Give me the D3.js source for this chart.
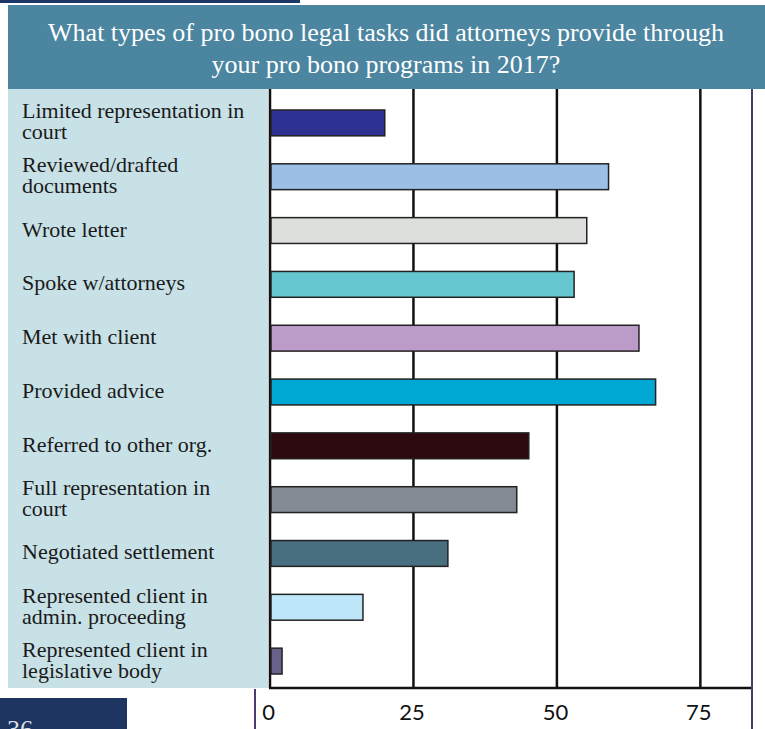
<!DOCTYPE html>
<html>
<head>
<meta charset="utf-8">
<script src="https://cdn.jsdelivr.net/npm/d3@7"></script>
<style>
  html, body { margin: 0; padding: 0; background: #ffffff; }
  svg { display: block; }
</style>
</head>
<body>
<svg id="chart" width="765" height="729"></svg>
<script>
// ---- data ----
const titleLines = [
  "What types of pro bono legal tasks did attorneys provide through",
  "your pro bono programs in 2017?"
];
const categories = [
  ["Limited representation in", "court"],
  ["Reviewed/drafted", "documents"],
  ["Wrote letter"],
  ["Spoke w/attorneys"],
  ["Met with client"],
  ["Provided advice"],
  ["Referred to other org."],
  ["Full representation in", "court"],
  ["Negotiated settlement"],
  ["Represented client in", "admin. proceeding"],
  ["Represented client in", "legislative body"]
];
const values = [20, 59, 55.2, 53, 64.3, 67.2, 45.1, 43, 31, 16.2, 2.1];
const barColors = ["#2e3192", "#9bbfe5", "#dcdfdc", "#66c6cf", "#bc9bc9", "#00a9d4",
                   "#2d0a10", "#838a91", "#476f80", "#bde7f8", "#6a628c"];
const tickValues = [0, 25, 50, 75];
const pageNumber = "36";

// ---- layout ----
const svg = d3.select("#chart");
const plotLeft = 270, plotRight = 752, plotTop = 89, plotBottom = 688;

const x = d3.scaleLinear().domain([0, 84]).range([plotLeft, plotRight]);
const y = d3.scaleBand()
  .domain(d3.range(categories.length))
  .range([96, 688])
  .paddingInner(0.52)
  .paddingOuter(0.26);

// top dark rule
svg.append("rect").attr("x", 0).attr("y", 0).attr("width", 300).attr("height", 3).attr("fill", "#1d3766");

// title band
svg.append("rect").attr("x", 8).attr("y", 5).attr("width", 757).attr("height", 84).attr("fill", "#4b85a0");
svg.append("g").selectAll("text").data(titleLines).join("text")
  .attr("x", 386).attr("y", (d, i) => 41 + i * 32)
  .attr("text-anchor", "middle")
  .attr("fill", "#ffffff")
  .style("font-family", "'Liberation Serif', 'DejaVu Serif', serif")
  .style("font-size", "26px")
  .text(d => d);

// label panel
svg.append("rect").attr("x", 8).attr("y", plotTop).attr("width", 260).attr("height", plotBottom - plotTop).attr("fill", "#c8e1e6");

// labels
const lab = svg.append("g").selectAll("text").data(categories).join("text")
  .attr("fill", "#1a1a1a")
  .style("font-family", "'Liberation Serif', 'DejaVu Serif', serif")
  .style("font-size", "22px");
lab.each(function(d, i) {
  const cy = y(i) + y.bandwidth() / 2;
  const lh = 21;
  const startY = cy - (d.length - 1) * lh / 2 + 6;
  d3.select(this).selectAll("tspan").data(d).join("tspan")
    .attr("x", 22)
    .attr("y", (t, j) => startY + j * lh)
    .text(t => t);
});

// gridlines
svg.append("g").selectAll("line").data(tickValues).join("line")
  .attr("x1", d => x(d)).attr("x2", d => x(d))
  .attr("y1", plotTop).attr("y2", plotBottom)
  .attr("stroke", "#111").attr("stroke-width", 2.5);

// bars
svg.append("g").selectAll("rect").data(values).join("rect")
  .attr("x", x(0) + 1)
  .attr("y", (d, i) => y(i))
  .attr("width", d => x(d) - x(0) - 1)
  .attr("height", y.bandwidth())
  .attr("fill", (d, i) => barColors[i])
  .attr("stroke", "#222")
  .attr("stroke-width", 1.5);

// bottom axis line
svg.append("line").attr("x1", plotLeft - 1).attr("x2", plotRight).attr("y1", plotBottom).attr("y2", plotBottom)
  .attr("stroke", "#111").attr("stroke-width", 2.5);

// axis tick labels via d3 axis
const axis = d3.axisBottom(x).tickValues(tickValues).tickSize(0).tickPadding(16);
const ax = svg.append("g").attr("transform", `translate(-2,${plotBottom})`).call(axis);
ax.select(".domain").remove();
ax.selectAll("text")
  .attr("fill", "#111")
  .style("font-family", "Lato, 'Open Sans', sans-serif")
  .style("font-size", "22px");

// frame lines (purple)
svg.append("line").attr("x1", 752).attr("x2", 752).attr("y1", plotTop).attr("y2", 729)
  .attr("stroke", "#4e3a70").attr("stroke-width", 2);
svg.append("line").attr("x1", 255).attr("x2", 255).attr("y1", plotBottom + 1).attr("y2", 729)
  .attr("stroke", "#4e3a70").attr("stroke-width", 2);

// page number box
svg.append("rect").attr("x", 0).attr("y", 698).attr("width", 127).attr("height", 31).attr("fill", "#1d3560");
svg.append("text").attr("x", 7).attr("y", 738).attr("fill", "#d8dde6")
  .style("font-family", "'Liberation Serif', serif").style("font-size", "26px").text(pageNumber);
</script>
</body>
</html>
